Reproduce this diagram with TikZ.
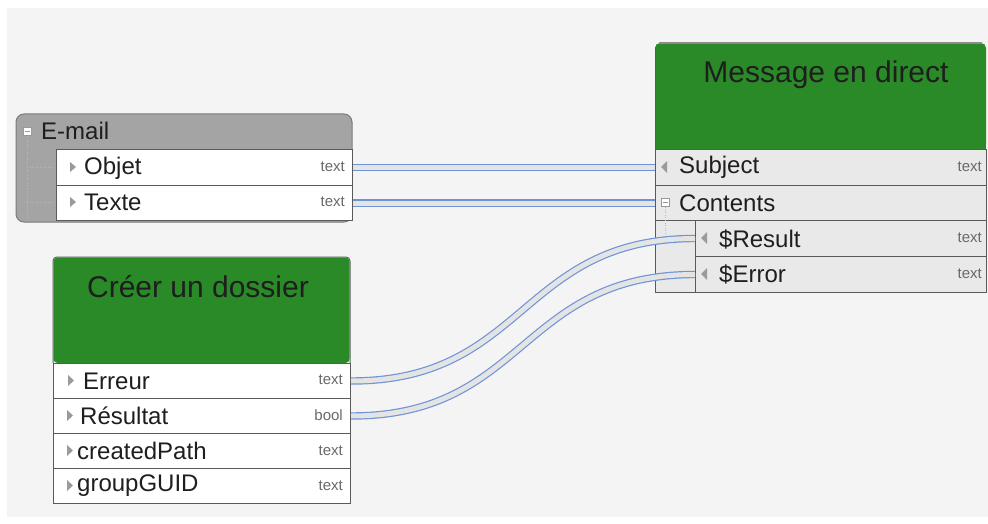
\documentclass[tikz,border=0pt]{standalone}
\usepackage{fontspec}
\setmainfont{Liberation Sans}
\usetikzlibrary{positioning}
\definecolor{bggray}{HTML}{F4F4F4}
\definecolor{boxgreen}{HTML}{2A8A28}
\definecolor{mailgray}{HTML}{A4A4A4}
\definecolor{rowgray}{HTML}{E9E9E9}
\definecolor{edgegray}{HTML}{5A5A5A}
\definecolor{connblue}{HTML}{6F94D6}
\definecolor{conngray}{HTML}{E4E4E4}
\definecolor{txt}{HTML}{1E1E1E}
\definecolor{typetxt}{HTML}{6A6A6A}
\definecolor{arrowgray}{HTML}{9A9A9A}
\tikzset{
  rowbox/.style={draw=edgegray, line width=1pt, inner sep=0pt, anchor=north west},
  rowtext/.style={anchor=west, inner sep=0pt, text=txt, font=\fontsize{24}{24}\selectfont},
  titletext/.style={anchor=center, inner sep=0pt, text=txt, font=\fontsize{30}{30}\selectfont},
  typetext/.style={anchor=east, inner sep=0pt, text=typetxt, font=\fontsize{15}{15}\selectfont},
  tri/.style={fill=arrowgray, draw=none},
  iconbox/.style={draw=arrowgray, fill=white, line width=0.6pt, minimum size=8pt, inner sep=0pt},
  dotline/.style={draw=arrowgray!70, dotted, line width=0.6pt},
  conn/.style={draw=connblue, line width=1.2pt, double=conngray, double distance=5pt},
}
\begin{document}
\begin{tikzpicture}[x=1pt,y=-1pt]
\useasboundingbox (0,0) rectangle (988,524);
\fill[white] (0,0) rectangle (988,524);
\fill[bggray] (7,8) rectangle (988,517);

% ---------- E-mail box ----------
\draw[fill=mailgray, draw=edgegray!80, line width=1pt, rounded corners=8pt] (16,114) rectangle (352,222);
\node[iconbox] (mailicon) at (27,131) {};
\draw[arrowgray, line width=0.7pt] (24.5,131) -- (29.5,131);
\node[rowtext] (mailtitle) at (41,131) {E-mail};
\draw[dotline] (27,136) -- (27,218);
\draw[dotline] (27,167) -- (56,167);
\draw[dotline] (27,202) -- (56,202);
\node[rowbox, fill=white, minimum width=296pt, minimum height=36pt] (objet) at (56,149) {};
\node[rowbox, fill=white, minimum width=296pt, minimum height=35pt] (texte) at (56,185) {};
\fill[tri] (70,162) -- (76,167) -- (70,172) -- cycle;
\node[rowtext] at (84,168) {Objet};
\node[typetext] at (345,167) {text};
\fill[tri] (70,197) -- (76,202) -- (70,207) -- cycle;
\node[rowtext] at (84,202) {Texte};
\node[typetext] at (345,202) {text};

% ---------- Créer un dossier ----------
\draw[fill=white, draw=edgegray, line width=1pt] (53,363) -- (53,261) [rounded corners=4pt] -- (53,257) -- (350,257) [sharp corners] -- (350,363) ;
\fill[boxgreen, rounded corners=4pt] (53.5,257.5) rectangle (349.5,363);
\node[titletext] (creertitle) at (198,287) {Créer un dossier};
\node[rowbox, fill=white, minimum width=297pt, minimum height=35pt] (erreur) at (53,363) {};
\node[rowbox, fill=white, minimum width=297pt, minimum height=35pt] (resultat) at (53,398) {};
\node[rowbox, fill=white, minimum width=297pt, minimum height=35pt] (createdpath) at (53,433) {};
\node[rowbox, fill=white, minimum width=297pt, minimum height=35pt] (groupguid) at (53,468) {};
\fill[tri] (68,375) -- (74,380.5) -- (68,386) -- cycle;
\node[rowtext] at (83,381) {Erreur};
\node[typetext] at (343,380) {text};
\fill[tri] (67,410) -- (73,415.5) -- (67,421) -- cycle;
\node[rowtext] at (80,416) {Résultat};
\node[typetext] at (343,415) {bool};
\fill[tri] (67,445) -- (73,450.5) -- (67,456) -- cycle;
\node[rowtext] at (77,451) {createdPath};
\node[typetext] at (343,451) {text};
\fill[tri] (67,480) -- (73,485.5) -- (67,491) -- cycle;
\node[rowtext] at (77,486) {groupGUID};
\node[typetext] at (343,486) {text};

% ---------- Message en direct ----------
\fill[rowgray] (655,149) rectangle (986,292);
\fill[boxgreen, rounded corners=5pt] (655,43) rectangle (986,149);
\fill[boxgreen] (655,100) rectangle (986,149);
\draw[edgegray, line width=1pt] (655,292) -- (655,47);
\draw[edgegray!70, line width=1.4pt] (659,43) -- (982,43);
\node[titletext] (msgtitle) at (826,75) {Message en direct};
\node[rowbox, fill=rowgray, minimum width=331pt, minimum height=36pt] (subject) at (655,149) {};
\node[rowbox, fill=rowgray, minimum width=331pt, minimum height=35pt] (contents) at (655,185) {};
\node[rowbox, fill=rowgray, minimum width=291pt, minimum height=36pt] (sresult) at (695,220) {};
\node[rowbox, fill=rowgray, minimum width=291pt, minimum height=36pt] (serror) at (695,256) {};
\draw[edgegray, line width=1pt] (655,292) -- (695,292);
\fill[tri] (667,161) -- (661,167) -- (667,173) -- cycle;
\node[rowtext] at (679,167) {Subject};
\node[typetext] at (982,167) {text};
\node[iconbox] (contentsicon) at (665,202) {};
\draw[arrowgray, line width=0.7pt] (662.5,202) -- (667.5,202);
\node[rowtext] at (679,203) {Contents};
\draw[dotline] (665,207) -- (665,240);
\fill[tri] (707,232) -- (701,238) -- (707,244) -- cycle;
\node[rowtext] at (719,239) {\$Result};
\node[typetext] at (982,238) {text};
\fill[tri] (707,268) -- (701,274) -- (707,280) -- cycle;
\node[rowtext] at (719,274) {\$Error};
\node[typetext] at (982,274) {text};

% ---------- connectors ----------
\draw[conn] (objet.east) -- (subject.west);
\draw[conn] (texte.east) -- (contents.west);
\draw[conn] (erreur.east) .. controls +(175,0) and +(-175,0) .. (sresult.west);
\draw[conn] (resultat.east) .. controls +(175,0) and +(-175,0) .. (serror.west);
\end{tikzpicture}
\end{document}
